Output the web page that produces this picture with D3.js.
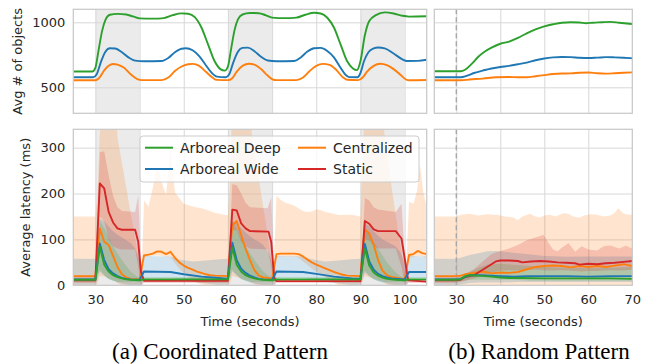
<!DOCTYPE html>
<html>
<head>
<meta charset="utf-8">
<script src="https://cdn.jsdelivr.net/npm/d3@7"></script>
<style>
  body { margin: 0; background: #fff; }
  svg text { font-family: "DejaVu Sans", sans-serif; fill: #262626; }
  svg text.caption { font-family: "Liberation Serif", "Times New Roman", serif; fill: #000; }
</style>
</head>
<body>
<svg id="chart" width="652" height="364"></svg>
<script>
// ---- data ----
const shadedWindows = [[30, 40], [60, 70], [90, 100]];
const coordTicks = [30, 40, 50, 60, 70, 80, 90, 100];
const randTicks = [30, 40, 50, 60, 70];
const objTicks = [500, 1000];
const latTicks = [0, 100, 200, 300];
const legendNames = ["Arboreal Deep", "Arboreal Wide", "Centralized", "Static"];

// avg # of objects, coordinated pattern  [t, value]
const objCoordDeep = [[25,622],[29.3,622],[30,650],[30.7,780],[31.5,930],[32.3,1020],[33.3,1058],[35,1065],[37,1060],[38.5,1045],[40,1030],[43,1028],[45.5,1032],[47.5,1055],[49.5,1069],[51,1066],[52.5,1040],[54,960],[55.5,830],[57,700],[58.3,640],[59.3,628],[60,660],[60.7,790],[61.5,940],[62.3,1025],[63.3,1060],[65,1072],[67,1070],[68.5,1055],[70,1036],[73,1032],[75.5,1036],[77.5,1058],[79.5,1074],[81,1068],[82.5,1035],[84,960],[85.5,830],[87,700],[88.3,645],[89.2,632],[90,700],[91,900],[92,1010],[93.5,1055],[95.5,1076],[97.5,1068],[99.5,1050],[101,1044],[105,1046]];
const objCoordWide = [[25,577],[29.5,577],[30.3,600],[31.2,690],[32.2,770],[33.3,800],[34.5,798],[36,770],[37.5,730],[39,705],[41,700],[45,702],[46.5,725],[48,770],[49.5,797],[50.5,800],[52,785],[53.5,740],[55,670],[56.5,605],[57.5,582],[59.5,577],[60.3,600],[61.2,690],[62.2,770],[63.3,803],[64.5,805],[66,778],[67.5,735],[69,706],[71,700],[75,702],[76.5,730],[78,775],[79.5,800],[81,803],[82.5,780],[84,730],[85.5,650],[86.8,590],[87.5,578],[89.3,577],[90,610],[90.8,700],[91.8,770],[93,800],[94,806],[95.5,800],[97.5,760],[99.5,715],[100.5,702],[103,703],[105,712]];
const objCoordCent = [[25,554],[30,554],[30.8,570],[32,630],[33,665],[34,679],[35,675],[36.5,650],[38,600],[39.5,563],[40.5,555],[45,555],[46.5,575],[48,625],[49.5,660],[51,677],[52,680],[53.5,665],[55,620],[56.5,575],[57.5,557],[60,555],[61,570],[62,620],[63.3,665],[64.8,681],[66,675],[67.5,640],[69,590],[70.3,558],[71,555],[75.5,555],[77,575],[78.5,625],[80,665],[81.5,680],[83,672],[84.5,635],[86,578],[87,558],[89.5,555],[90.5,575],[91.5,620],[93,665],[94.5,681],[96,670],[97.5,640],[99,598],[100.3,560],[101,554],[105,556]];

// avg # of objects, random pattern
const objRandDeep = [[25,623],[31,623],[32,635],[33.5,680],[35,735],[36.5,775],[38,805],[40,835],[42,852],[44,880],[46,915],[48,945],[50,968],[52,985],[54,997],[56,1000],[58,998],[59.5,993],[61,997],[63,1000],[65,1003],[67,997],[70,987]];
const objRandWide = [[25,577],[31,577],[32.5,590],[34,610],[36,628],[38,645],[40,656],[42,665],[44,677],[46,690],[48,708],[50,722],[52,730],[54,733],[56,732],[58,727],[60,725],[62,728],[64,732],[66,730],[68,727],[70,723]];
const objRandCent = [[25,554],[31,554],[33,560],[36,567],[39,577],[42,579],[44,577],[46,577],[48,585],[50,594],[52,602],[54,606],[56,607],[58,612],[60,614],[62,608],[64,605],[66,608],[68,612],[70,615]];

// average latency (ms), coordinated pattern  [t, mean]
const latCoordDeep = [[25,12],[30,12],[31,84],[32,45],[33,30],[34,22],[35,18],[36,15],[37,13],[38,12],[40,11],[41,13],[60,13],[61,82],[62,45],[63,30],[64,22],[65,18],[66,15],[67,13],[68,12],[70,11],[71,13],[90,13],[91,80],[92,43],[93,28],[94,21],[95,17],[96,14],[97,13],[98,12],[100,11],[101,13],[105,13]];
const latCoordWide = [[25,13],[30,13],[31,91],[32,55],[33,35],[34,26],[35,20],[36,16],[37,14],[38,13],[40,12],[41,30],[47,29],[50,24],[54,19],[58,16],[60,14],[61,93],[62,55],[63,36],[64,27],[65,21],[66,17],[67,14],[68,13],[70,12],[71,30],[77,29],[80,25],[84,19],[88,15],[90,14],[91,90],[92,52],[93,34],[94,25],[95,20],[96,17],[97,15],[100,13],[101,29],[105,29]];
const latCoordCent = [[25,20],[30,20],[31,124],[32,95],[33,88],[34,64],[35,40],[36,24],[37,17],[38,14],[40,13],[41,65],[42,67],[43,69],[44,74],[45,73],[46,68],[47,73],[48,60],[49,50],[50,43],[51,38],[52,34],[53,30],[54,27],[55,24],[56,22],[57,21],[60,20],[61,131],[62,140],[63,109],[64,80],[65,55],[66,33],[67,21],[68,17],[70,15],[71,68],[72,69],[75,69],[76,68],[77,63],[78,56],[79,50],[80,45],[81,41],[82,37],[83,33],[84,29],[85,26],[86,23],[87,21],[90,20],[91,122],[92,113],[93,88],[94,55],[95,32],[96,22],[97,18],[99,15],[100,13],[101,66],[102,68],[103,75],[104,70],[105,68]];
const latCoordStatic = [[25,11],[30,11],[31,222],[32,211],[33,160],[34,137],[35,124],[36,121],[39,121],[39.7,95],[40.3,30],[41,10],[60,10],[61,165],[62,163],[63,135],[64,124],[65,118],[69.2,117],[69.8,95],[70.5,15],[71,9],[90,9],[91,140],[92,134],[93,122],[94,118],[98,118],[99.3,102],[100,60],[100.8,11],[105,8]];

// confidence bands, coordinated pattern  [t, low, high]
const bandCoordDeep = [[25,8,16],[30,8,16],[31,35,140],[32,22,125],[33,14,105],[34,10,85],[35,8,70],[36,7,55],[37,7,42],[38,7,30],[39,7,22],[40,7,16],[41,9,18],[60,9,18],[61,35,138],[62,22,122],[63,14,102],[64,10,85],[65,8,70],[66,7,55],[67,7,42],[68,7,30],[69,7,22],[70,7,16],[71,9,18],[90,9,18],[91,32,125],[92,20,110],[93,13,95],[94,10,80],[95,8,65],[96,7,50],[97,7,38],[98,7,28],[99,7,20],[100,7,16],[101,9,18],[105,9,18]];
const bandCoordWide = [[25,0,58],[30,0,58],[31,30,145],[32,22,140],[33,14,128],[34,10,118],[35,6,110],[36,4,104],[37,2,98],[38,0,92],[39,0,80],[40,0,55],[40.6,0,30],[41,16,64],[47,16,63],[49,13,56],[52,8,52],[55,4,54],[58,0,57],[60,0,58],[61,30,140],[62,22,135],[63,14,125],[64,10,115],[65,6,107],[66,4,100],[67,2,95],[68,0,88],[69,0,75],[70,0,52],[70.6,0,30],[71,16,64],[77,16,63],[79,13,57],[82,8,52],[85,4,54],[88,0,57],[90,0,58],[91,28,135],[92,20,128],[93,13,118],[94,9,108],[95,6,100],[96,4,95],[97,2,90],[98,0,85],[99,0,72],[100,0,50],[100.6,0,30],[101,16,64],[105,16,63]];
const bandCoordCent = [[25,0,150],[30,0,150],[30.5,5,200],[31,20,330],[31.6,20,420],[34.5,10,420],[35,5,322],[36,0,267],[37,0,212],[38,0,157],[39,0,102],[40,0,47],[40.5,0,25],[41,62,185],[42,63,172],[43,64,212],[44,65,262],[45,64,225],[46,62,196],[47,62,298],[48,48,203],[49,36,190],[50,26,178],[51,18,175],[52,10,172],[54,2,168],[55,0,165],[57,0,158],[60,0,152],[60.5,5,220],[61,20,420],[64.8,10,420],[65.5,5,320],[66.5,0,265],[67.5,0,200],[68.5,0,140],[69.5,0,75],[70.3,0,22],[71,62,195],[72,63,186],[73,63,180],[75,62,174],[76,60,168],[77,52,162],[78,44,160],[79,36,161],[80,30,165],[81,24,164],[82,18,160],[83,12,158],[84,6,156],[85,0,153],[88,0,154],[90,0,150],[90.5,10,260],[91,20,420],[94.8,10,420],[95.5,5,320],[96.5,0,250],[97.5,0,185],[98.5,0,120],[99.5,0,60],[100.3,0,22],[101,60,182],[102,62,178],[102.8,63,205],[103.5,64,262],[104.2,62,205],[105,60,170]];
const bandCoordStatic = [[25,5,18],[30,5,18],[31,150,290],[32,140,292],[33,100,240],[34,85,195],[35,80,170],[36,78,162],[39,78,160],[39.7,40,196],[40.3,0,60],[41,5,15],[60,5,15],[61,120,220],[62,120,218],[63,95,200],[64,85,180],[65,80,170],[69,78,168],[69.8,40,192],[70.4,0,50],[71,5,14],[90,5,14],[91,100,190],[92,98,185],[93,85,170],[94,80,165],[98,80,160],[99.3,40,178],[100.1,0,50],[100.8,5,14],[105,5,14]];

// average latency (ms), random pattern
const latRandDeep = [[25,12],[30,12],[31,13],[32,20],[33,22],[35,21],[38,19],[40,17],[42,16],[45,16],[50,15],[55,15],[60,15],[65,15],[70,14]];
const latRandWide = [[25,13],[30,13],[31,14],[32,18],[33,22],[35,22],[38,21],[40,20],[43,19],[46,20],[50,20],[55,20],[60,19],[65,20],[70,20]];
const latRandCent = [[25,20],[30,20],[31,21],[32,24],[34,27],[36,30],[38,26],[40,28],[42,27],[44,29],[46,35],[48,40],[50,42],[52,43],[54,42],[56,39],[58,42],[60,40],[62,42],[64,40],[66,43],[68,46],[70,42]];
const latRandStatic = [[25,11],[30,11],[31,12],[32,18],[34,22],[35,28],[37,40],[39,52],[40,54],[42,54],[44,53],[45,50],[47,52],[49,53],[51,52],[53,50],[55,49],[57,48],[58,45],[60,47],[62,46],[64,48],[66,49],[68,51],[70,53]];

const bandRandDeep = [[25,8,16],[30,8,16],[31,9,18],[33,12,28],[35,12,38],[37,12,45],[40,12,47],[43,12,45],[47,10,42],[50,10,40],[55,10,38],[60,10,37],[65,10,38],[70,10,40]];
const bandRandWide = [[25,0,58],[30,0,58],[31,2,60],[33,5,66],[35,6,70],[37,6,74],[39,6,75],[41,6,73],[44,7,70],[47,7,67],[50,7,64],[55,7,62],[60,7,63],[65,7,63],[70,7,63]];
const bandRandCent = [[25,0,150],[30,0,150],[31,0,154],[33,0,156],[35,0,152],[37,0,155],[39.6,0,153],[41,0,150],[43,0,148],[44,0,142],[45,0,150],[46.8,0,156],[48,0,150],[49,0,148],[50,0,152],[51.3,0,154],[52.5,0,150],[54.3,0,157],[55.5,0,156],[56.5,0,150],[58,0,147],[59,0,152],[60.5,0,155],[62,0,154],[63.5,0,150],[65,0,152],[66,0,158],[66.8,0,168],[67.8,0,158],[68.5,0,155],[70,0,154]];
const bandRandStatic = [[25,5,18],[30,5,18],[32,10,25],[34,15,35],[36,20,52],[38,28,68],[40,32,75],[42,33,80],[44,32,88],[46,33,98],[48,34,104],[49.8,33,110],[51,32,92],[52,32,78],[53,33,74],[54,33,82],[55.5,32,92],[57,31,73],[58.5,30,85],[60,31,78],[62,31,76],[63.5,32,85],[65,33,87],[67,32,80],[68.5,33,86],[70,34,80]];

// ---- drawing ----
const colors = {
  "Arboreal Deep": "#2ca02c",
  "Arboreal Wide": "#1f77b4",
  "Centralized": "#ff7f0e",
  "Static": "#d62728"
};
const gridColor = "#d8d8d8";
const spineColor = "#c8c8c8";

const svg = d3.select("#chart");
const defs = svg.append("defs");

const xCoord = d3.scaleLinear().domain([25, 105]).range([73.3, 426.7]);
const xRand = d3.scaleLinear().domain([25, 70]).range([434.3, 632.3]);
const yObj = d3.scaleLinear().domain([300, 1100]).range([113.3, 9.3]);
const yLat = d3.scaleLinear().domain([0, 340]).range([285.3, 129.3]);

let clipId = 0;
function makePanel(x, y, opts) {
  const [x0, x1] = x.range();
  const [yb, yt] = y.range();
  const id = "clip" + (clipId++);
  defs.append("clipPath").attr("id", id)
    .append("rect").attr("x", x0).attr("y", yt).attr("width", x1 - x0).attr("height", yb - yt);
  const g = svg.append("g");
  const inner = g.append("g").attr("clip-path", `url(#${id})`);

  if (opts.shade) {
    inner.selectAll("rect.shade").data(shadedWindows).join("rect")
      .attr("x", d => x(d[0])).attr("width", d => x(d[1]) - x(d[0]))
      .attr("y", yt).attr("height", yb - yt)
      .attr("fill", "#ebebeb");
  }

  // grid
  inner.append("g")
    .attr("transform", `translate(0,${yb})`)
    .call(d3.axisBottom(x).tickValues(opts.xTicks).tickSize(-(yb - yt)).tickFormat(""))
    .call(a => a.select(".domain").remove())
    .selectAll("line").attr("stroke", gridColor).attr("stroke-width", 1);
  inner.append("g")
    .attr("transform", `translate(${x0},0)`)
    .call(d3.axisLeft(y).tickValues(opts.yTicks).tickSize(-(x1 - x0)).tickFormat(""))
    .call(a => a.select(".domain").remove())
    .selectAll("line").attr("stroke", gridColor).attr("stroke-width", 1);

  return { g, inner, x, y, x0, x1, yt, yb };
}

function drawBands(p, bands) {
  const area = d3.area().x(d => p.x(d[0])).y0(d => p.y(d[1])).y1(d => p.y(d[2]));
  bands.forEach(([name, data]) => {
    p.inner.append("path").datum(data)
      .attr("d", area).attr("fill", colors[name]).attr("fill-opacity", 0.2).attr("stroke", "none");
  });
}

function drawLines(p, lines, curve) {
  const line = d3.line().x(d => p.x(d[0])).y(d => p.y(d[1])).curve(curve);
  lines.forEach(([name, data]) => {
    p.inner.append("path").datum(data)
      .attr("d", line).attr("fill", "none")
      .attr("stroke", colors[name]).attr("stroke-width", 1.9)
      .attr("stroke-linejoin", "round").attr("stroke-linecap", "round");
  });
}

function drawDashed(p, t) {
  p.inner.append("line")
    .attr("x1", p.x(t)).attr("x2", p.x(t)).attr("y1", p.yt).attr("y2", p.yb)
    .attr("stroke", "#a8a8a8").attr("stroke-width", 1.4).attr("stroke-dasharray", "5,3");
}

function drawFrame(p) {
  p.g.append("rect")
    .attr("x", p.x0).attr("y", p.yt).attr("width", p.x1 - p.x0).attr("height", p.yb - p.yt)
    .attr("fill", "none").attr("stroke", spineColor).attr("stroke-width", 1.25);
}

function yLabels(p, ticks) {
  p.g.append("g")
    .attr("transform", `translate(${p.x0},0)`)
    .call(d3.axisLeft(p.y).tickValues(ticks).tickSize(0).tickPadding(8).tickFormat(d3.format("d")))
    .call(a => a.select(".domain").remove())
    .selectAll("text").attr("font-size", 13).attr("fill", "#262626")
    .attr("font-family", "DejaVu Sans, sans-serif");
}

function xLabels(p, ticks) {
  p.g.append("g")
    .attr("transform", `translate(0,${p.yb})`)
    .call(d3.axisBottom(p.x).tickValues(ticks).tickSize(0).tickPadding(9.5).tickFormat(d3.format("d")))
    .call(a => a.select(".domain").remove())
    .selectAll("text").attr("font-size", 13).attr("fill", "#262626")
    .attr("font-family", "DejaVu Sans, sans-serif");
}

// top-left: objects, coordinated
const pObjC = makePanel(xCoord, yObj, { shade: true, xTicks: coordTicks, yTicks: objTicks });
drawLines(pObjC, [["Centralized", objCoordCent], ["Arboreal Wide", objCoordWide], ["Arboreal Deep", objCoordDeep]], d3.curveMonotoneX);
drawFrame(pObjC);
yLabels(pObjC, objTicks);

// top-right: objects, random
const pObjR = makePanel(xRand, yObj, { shade: false, xTicks: randTicks, yTicks: objTicks });
drawDashed(pObjR, 30);
drawLines(pObjR, [["Centralized", objRandCent], ["Arboreal Wide", objRandWide], ["Arboreal Deep", objRandDeep]], d3.curveMonotoneX);
drawFrame(pObjR);

// bottom-left: latency, coordinated
const pLatC = makePanel(xCoord, yLat, { shade: true, xTicks: coordTicks, yTicks: latTicks });
drawBands(pLatC, [["Centralized", bandCoordCent], ["Arboreal Wide", bandCoordWide], ["Arboreal Deep", bandCoordDeep], ["Static", bandCoordStatic]]);
drawLines(pLatC, [["Centralized", latCoordCent], ["Static", latCoordStatic], ["Arboreal Wide", latCoordWide], ["Arboreal Deep", latCoordDeep]], d3.curveLinear);
drawFrame(pLatC);
yLabels(pLatC, latTicks);
xLabels(pLatC, coordTicks);

// bottom-right: latency, random
const pLatR = makePanel(xRand, yLat, { shade: false, xTicks: randTicks, yTicks: latTicks });
drawBands(pLatR, [["Centralized", bandRandCent], ["Arboreal Wide", bandRandWide], ["Arboreal Deep", bandRandDeep], ["Static", bandRandStatic]]);
drawDashed(pLatR, 30);
drawLines(pLatR, [["Centralized", latRandCent], ["Static", latRandStatic], ["Arboreal Wide", latRandWide], ["Arboreal Deep", latRandDeep]], d3.curveLinear);
drawFrame(pLatR);
xLabels(pLatR, randTicks);

// legend
const leg = svg.append("g").attr("transform", "translate(140,136)");
leg.append("rect").attr("width", 279).attr("height", 46).attr("rx", 3)
  .attr("fill", "#fff").attr("fill-opacity", 0.8)
  .attr("stroke", "#cccccc").attr("stroke-width", 1);
legendNames.forEach((name, i) => {
  const col = Math.floor(i / 2), row = i % 2;
  const lx = 5 + col * 153, ly = 11.7 + row * 21.3;
  leg.append("line").attr("x1", lx).attr("x2", lx + 28).attr("y1", ly).attr("y2", ly)
    .attr("stroke", colors[name]).attr("stroke-width", 2);
  leg.append("text").attr("x", lx + 35).attr("y", ly).attr("dy", "0.36em")
    .attr("font-size", 14).text(name);
});

// axis titles
svg.append("text").attr("transform", "translate(22,61.3) rotate(-90)")
  .attr("text-anchor", "middle").attr("font-size", 13).text("Avg # of objects");
svg.append("text").attr("transform", "translate(30,207.3) rotate(-90)")
  .attr("text-anchor", "middle").attr("font-size", 13).text("Average latency (ms)");
svg.append("text").attr("x", xCoord(65)).attr("y", 326)
  .attr("text-anchor", "middle").attr("font-size", 13).text("Time (seconds)");
svg.append("text").attr("x", xRand(47.5)).attr("y", 326)
  .attr("text-anchor", "middle").attr("font-size", 13).text("Time (seconds)");

// captions
svg.append("text").attr("class", "caption").attr("x", 220).attr("y", 359).attr("text-anchor", "middle")
  .attr("font-size", 23).text("(a) Coordinated Pattern");
svg.append("text").attr("class", "caption").attr("x", 539).attr("y", 359).attr("text-anchor", "middle")
  .attr("font-size", 23).text("(b) Random Pattern");
</script>
</body>
</html>
